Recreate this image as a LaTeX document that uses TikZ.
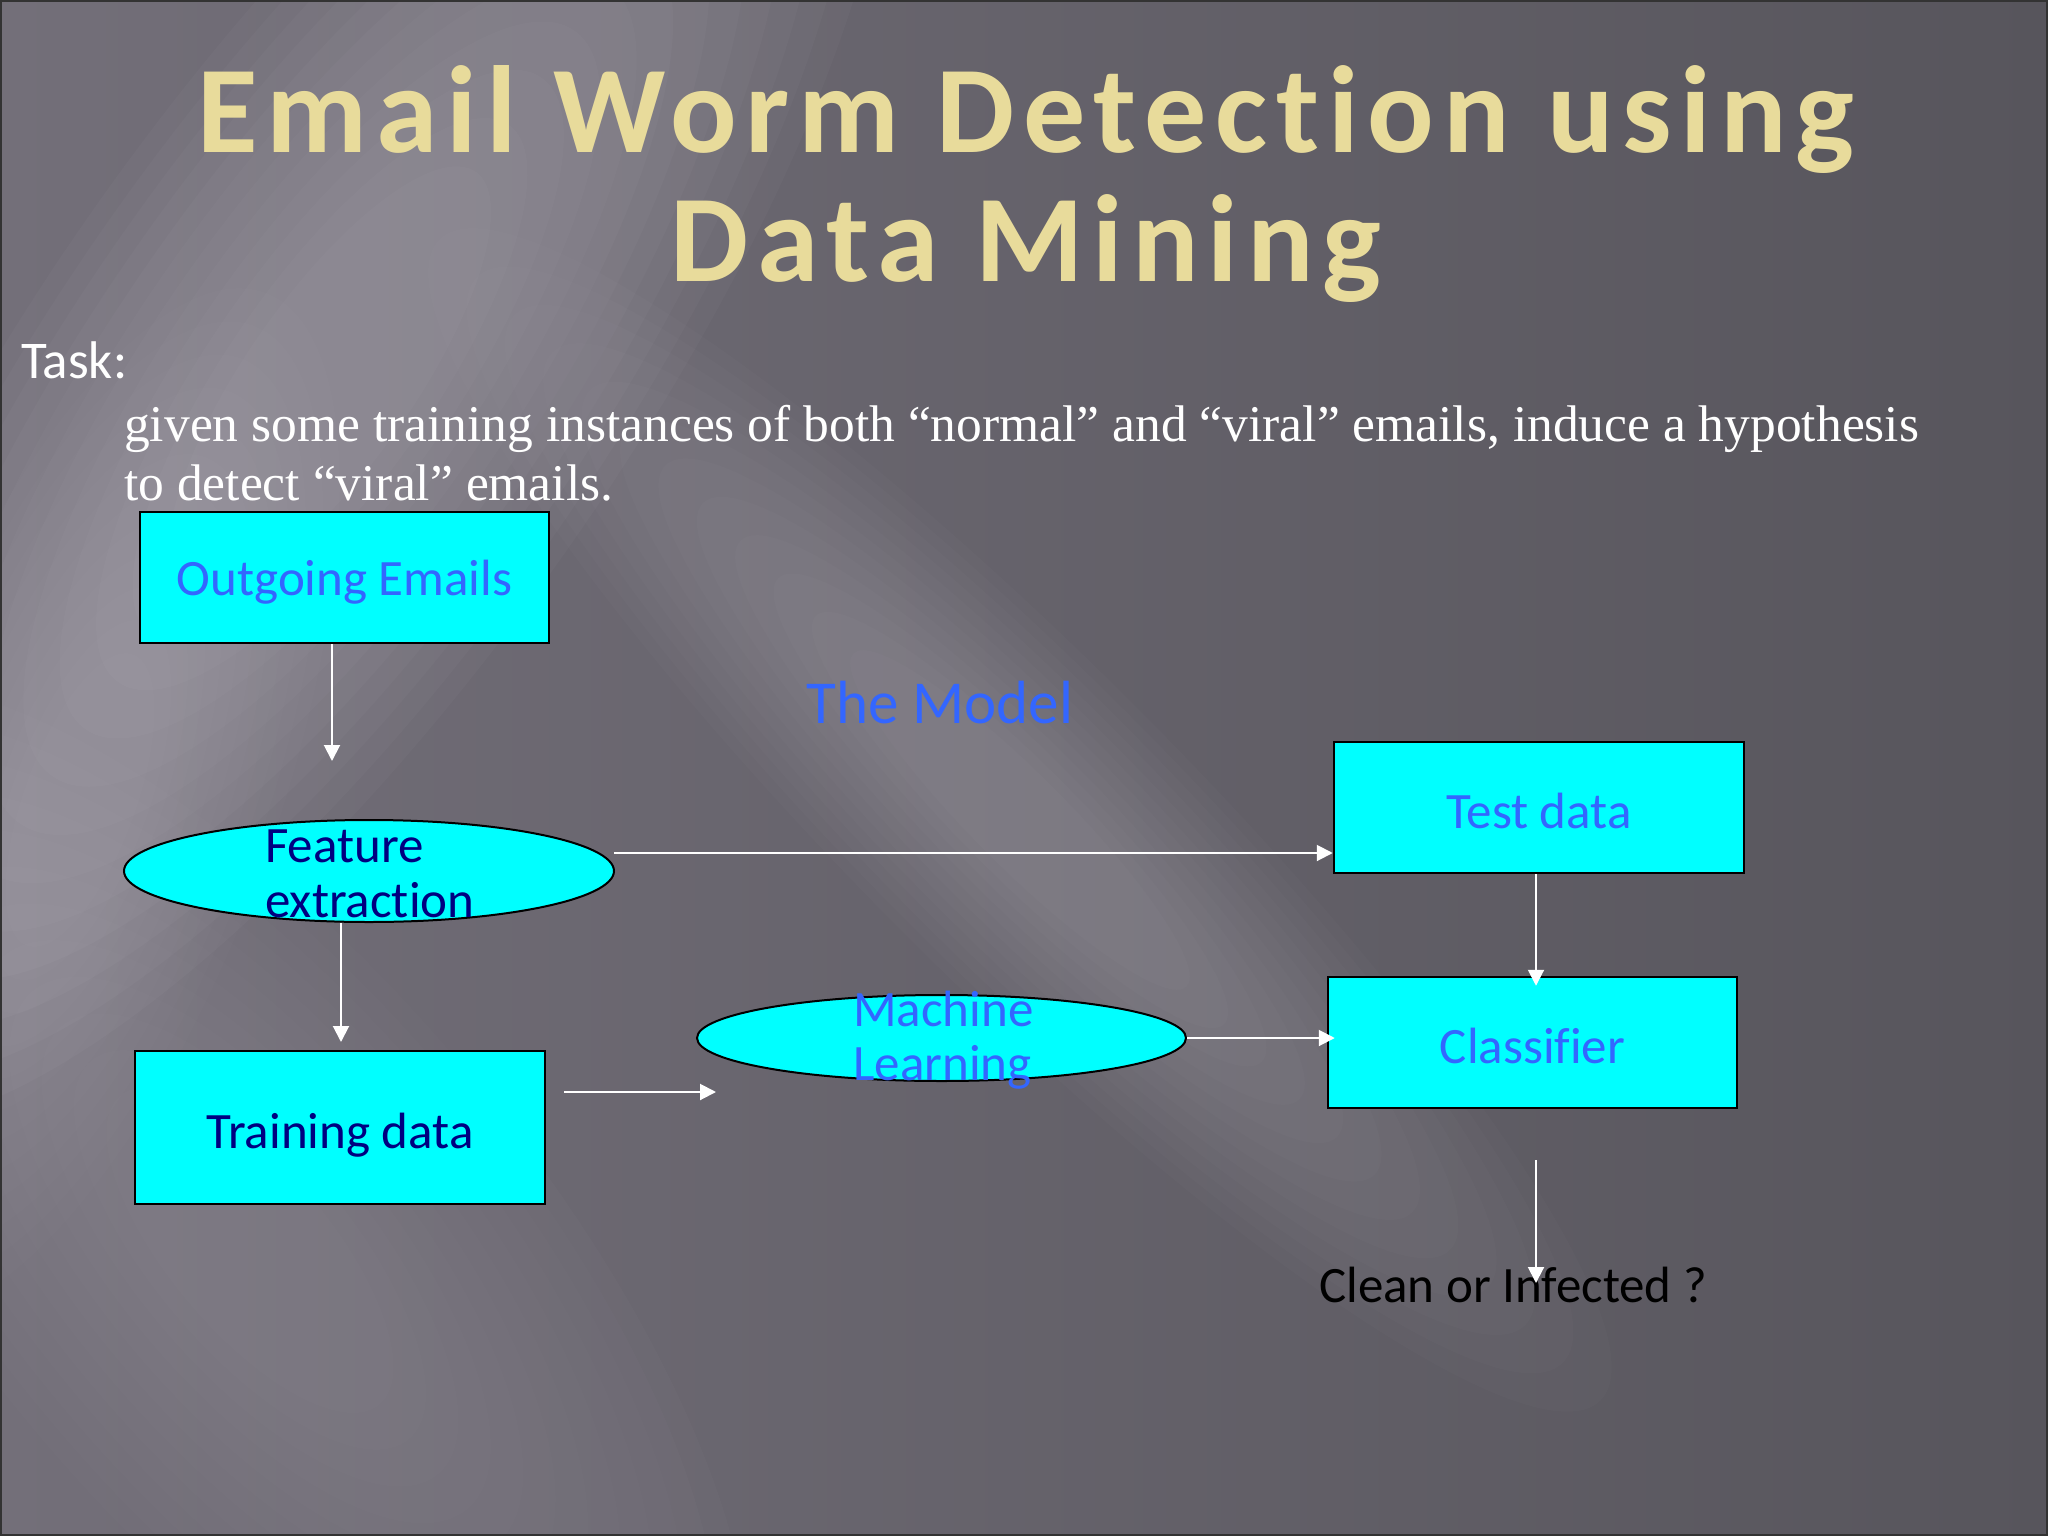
\documentclass[tikz,border=0pt]{standalone}
\usepackage{fontspec}
\setmainfont{Carlito}[Ligatures=NoCommon]
\newfontfamily\serifTNR{Liberation Serif}
\newfontfamily\titlefont{Carlito}[LetterSpace=7.2,Ligatures=NoCommon]
\usetikzlibrary{arrows.meta,shapes.geometric}

\definecolor{bgleft}{HTML}{736F79}
\definecolor{bgright}{HTML}{57555C}
\definecolor{bglight}{HTML}{D2CED8}
\definecolor{titlecol}{HTML}{E8DB9B}
\definecolor{boxfill}{HTML}{00FFFF}
\definecolor{bluetxt}{HTML}{3366FF}
\definecolor{navytxt}{HTML}{000080}

\tikzset{
  box/.style={draw=black, line width=2.5bp, fill=boxfill, rectangle, inner sep=0pt},
  ellbox/.style={draw=black, line width=2bp, fill=boxfill, ellipse, inner sep=0pt},
  arr/.style={draw=white, line width=2bp, -{Triangle[length=16bp,width=16bp]}},
  lbl/.style={font=\fontsize{51bp}{56bp}\selectfont, inner sep=0pt},
  titletxt/.style={font=\titlefont\bfseries\fontsize{124bp}{130bp}\selectfont, inner sep=0pt, anchor=base},
}

% soft light blob: centre x, centre y, long radius, short radius, angle, opacity per step
\newcommand\softblob[6]{%
  \foreach \k in {1,...,12} {
    \pgfmathsetmacro\ra{#3*(1.15-\k*0.07)}
    \pgfmathsetmacro\rb{#4*(1.15-\k*0.07)}
    \fill[bglight, fill opacity=#6, rotate around={#5:(#1,#2)}]
      (#1,#2) ellipse [x radius=\ra, y radius=\rb];
  }%
}

\begin{document}
\begin{tikzpicture}[x=1bp,y=-1bp]
\useasboundingbox (0,0) rectangle (2048,1536);
% background
\shade[left color=bgleft, right color=bgright] (0,0) rectangle (2048,1536);
\begin{scope}
  \clip (0,0) rectangle (2048,1536);
  \softblob{330}{380}{820}{270}{55}{0.035}
  \softblob{1020}{820}{760}{150}{-45}{0.025}
  \softblob{250}{1250}{650}{260}{-50}{0.02}
  \softblob{80}{800}{500}{180}{70}{0.02}
\end{scope}
\draw[black!80, line width=2bp] (1,1) rectangle (2047,1535);

% title
\node[titletxt, text=titlecol] (t1) at (1026,153) {Email Worm Detection using};
\node[titletxt, text=titlecol] (t2) at (1026,281) {Data Mining};

% task text
\node[inner sep=0pt, text=white, anchor=base west, font=\fontsize{53bp}{58bp}\selectfont] (task) at (21,378) {Task:};
\node[inner sep=0pt, anchor=base west, text=white, font=\serifTNR\fontsize{51.5bp}{60bp}\selectfont] (desc1) at (124,441) {given some training instances of both “normal” and “viral” emails, induce a hypothesis};
\node[inner sep=0pt, anchor=base west, text=white, font=\serifTNR\fontsize{51.5bp}{60bp}\selectfont] (desc2) at (124,500) {to detect “viral” emails.};

% model title
\node[inner sep=0pt, anchor=base, text=bluetxt, font=\fontsize{61bp}{66bp}\selectfont] (model) at (940,723) {The Model};

% boxes
\node[box, minimum width=409bp, minimum height=131bp] (out) at (344.5,577.5) {};
\node[lbl, text=bluetxt, anchor=base] (outt) at (344.5,595) {Outgoing Emails};

\node[ellbox, minimum width=490bp, minimum height=102bp] (fe) at (369,871) {};
\node[lbl, text=navytxt, anchor=base west] (fet1) at (265,862) {Feature};
\node[lbl, text=navytxt, anchor=base west] (fet2) at (265,917) {extraction};

\node[box, minimum width=410bp, minimum height=153bp] (train) at (340,1127.5) {};
\node[lbl, text=navytxt, anchor=base] (traint) at (340,1148) {Training data};

\node[ellbox, minimum width=489bp, minimum height=86bp] (ml) at (941.5,1038) {};
\node[lbl, text=bluetxt, anchor=base west] (mlt1) at (853,1026) {Machine};
\node[lbl, text=bluetxt, anchor=base west] (mlt2) at (853,1080) {Learning};

\node[box, minimum width=410bp, minimum height=131bp] (test) at (1539,807.5) {};
\node[lbl, text=bluetxt, anchor=base] (testt) at (1539,828) {Test data};

\node[box, minimum width=409bp, minimum height=131bp] (cls) at (1532.5,1042.5) {};
\node[lbl, text=bluetxt, anchor=base] (clst) at (1532.5,1063) {Classifier};

\node[lbl, text=black, anchor=base west] (res) at (1319,1302) {Clean or Infected ?};

% connector end points
\coordinate (a1) at (332,761);
\coordinate (a2) at (341,1042);
\coordinate (a3) at (614,853);
\coordinate (a4) at (1536,0);
\coordinate (a5s) at (1536,1160);
\coordinate (a5e) at (1536,1283);
\coordinate (a6s) at (564,1092);
\coordinate (a6e) at (716,1092);

% connectors
\draw[arr] (out.south -| a1) -- (a1);
\draw[arr] (fe.south -| a2) -- (a2);
\draw[arr] (a3) -- (test.west |- a3);
\draw[arr, shorten >=-10bp] (test.south -| a4) -- (cls.north -| a4);
\draw[arr] (a5s) -- (a5e);
\draw[arr] (a6s) -- (a6e);
\draw[arr, shorten >=-8bp] (ml.east) -- (cls.west |- ml.east);
\end{tikzpicture}
\end{document}
